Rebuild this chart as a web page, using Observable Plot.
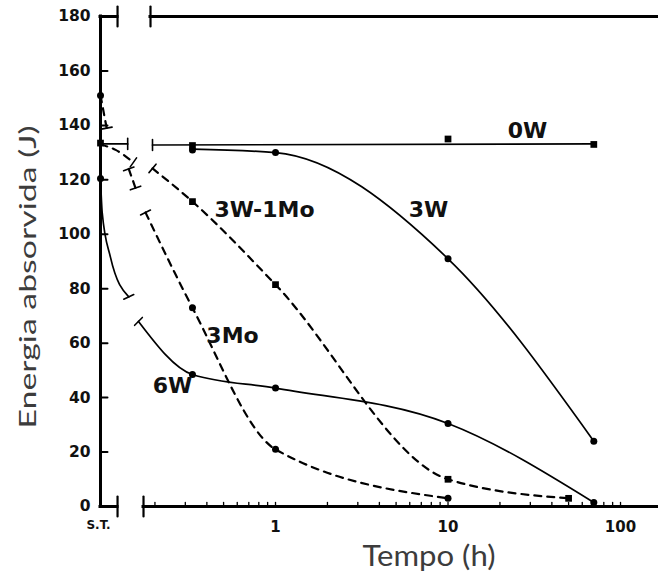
<!DOCTYPE html>
<html><head><meta charset="utf-8">
<script src="https://cdn.jsdelivr.net/npm/d3@7"></script>
<script src="https://cdn.jsdelivr.net/npm/@observablehq/plot@0.6"></script>
<style>body{margin:0;background:#fff}#chart svg{display:block}</style>
</head><body><div id="chart"></div>
<script>
// ---------- axis data ----------
const stLabel = "S.T.";
const stPos = 0.0967;            // where the S.T. category sits on the time axis (h)
const xMax = 166;
const breakLeft = 0.1214;        // end of the S.T. part of the broken axis
const breakRightBottom = 0.1717; // start of the time part (bottom frame line)
const breakRightTop = 0.1885;    // start of the time part (top frame line)
const yMin = 0, yMax = 180;
const yTicks = [0, 20, 40, 60, 80, 100, 120, 140, 160, 180];
const yInnerTicks = [20, 40, 60, 80, 100, 120, 140, 160];
const xTickValues = [1, 10, 100];
const xTickLabels = ["1", "10", "100"];
const xMinorTicks = [0.2, 0.3, 0.4, 0.5, 0.6, 0.7, 0.8, 0.9, 1, 2, 3, 4, 5, 6, 7, 8, 9, 10, 20, 30, 40, 50, 60, 70, 80, 90, 100];
const xTitle = "Tempo (h)";
const yTitle = "Energia absorvida (J)";

// ---------- series: curve traces (t = time h or "S.T.", e = energy J, g = piece across the axis break) ----------
const t0W = ["S.T.", 0.139, 0.1936, 70];
const e0W = [133.2, 133.2, 132.8, 133.2];
const g0W = [0, 0, 1, 1];
const t3W = [0.33, 1, 10, 70];
const e3W = [131.3, 130, 91, 24];
const g3W = [1, 1, 1, 1];
const t3W1Mo = ["S.T.", 0.1183, 0.150, 0.1936, 0.33, 1, 10, 50];
const e3W1Mo = [133, 131, 126.4, 124.2, 112, 81.5, 10, 3];
const g3W1Mo = [0, 0, 0, 1, 1, 1, 1, 1];
const t3Mo = ["S.T.", 0.105, 0.141, 0.1543, 0.1763, 0.33, 1, 10];
const e3Mo = [151, 139, 124, 117, 108, 73, 21, 3];
const g3Mo = [0, 0, 1, 1, 2, 2, 2, 2];
const t6W = ["S.T.", 0.0989, 0.1105, 0.141, 0.1606, 0.33, 1, 10, 70];
const e6W = [120.5, 108, 91.5, 77, 68, 48.5, 43.5, 30.5, 1.5];
const g6W = [0, 0, 0, 0, 1, 1, 1, 1, 1];

// ---------- series: measured points ----------
const mt0W = ["S.T.", 0.33, 10, 70];
const me0W = [133.5, 132.6, 135, 133];
const mt3W = [0.33, 1, 10, 70];
const me3W = [131, 130, 91, 24];
const mt3W1Mo = [0.33, 1, 10, 50];
const me3W1Mo = [112, 81.5, 10, 3];
const mt3Mo = ["S.T.", 0.33, 1, 10];
const me3Mo = [151, 73, 21, 3];
const mt6W = ["S.T.", 0.33, 1, 10, 70];
const me6W = [120.5, 48.5, 43.5, 30.5, 1.5];

// ---------- series labels ----------
const labelText = ["0W", "3W", "3W-1Mo", "3Mo", "6W"];
const labelT = [28.9, 7.7, 0.863, 0.563, 0.253];
const labelE = [138.1, 109.1, 109.1, 62.8, 44.1];

// ---------- build tables ----------
const pos = t => t === stLabel ? stPos : t;
function trace(name, t, e, g) { return t.map((ti, i) => ({series: name, x: pos(ti), e: e[i], seg: name + "-" + g[i]})); }
function points(name, t, e) { return t.map((ti, i) => ({series: name, x: pos(ti), e: e[i]})); }

const solid = [...trace("0W", t0W, e0W, g0W), ...trace("3W", t3W, e3W, g3W), ...trace("6W", t6W, e6W, g6W)];
const dashed = [...trace("3W-1Mo", t3W1Mo, e3W1Mo, g3W1Mo), ...trace("3Mo", t3Mo, e3Mo, g3Mo)];
const circlePts = [...points("3W", mt3W, me3W), ...points("3Mo", mt3Mo, me3Mo), ...points("6W", mt6W, me6W)];
const squarePts = [...points("0W", mt0W, me0W), ...points("3W-1Mo", mt3W1Mo, me3W1Mo)];
const allPts = [...circlePts, ...squarePts];

const W = 658, H = 584, mL = 100, mR = 0, mT = 16, mB = 78;
const xs = Plot.scale({x: {type: "log", domain: [stPos, xMax], range: [mL, W - mR]}});
const ys = Plot.scale({y: {domain: [yMin, yMax], range: [H - mB, mT]}});

// break marks: ends of curve pieces that are neither S.T. nor a measured point
const breaks = [];
for (const rows of [solid, dashed]) {
  for (const [seg, pts] of d3.group(rows, d => d.seg)) {
    const ends = [[pts[0], pts[1]], [pts[pts.length - 1], pts[pts.length - 2]]];
    for (const [p, q] of ends) {
      if (!q || p.x === stPos) continue;
      if (allPts.some(m => m.series === p.series && Math.abs(m.x - p.x) < 1e-9)) continue;
      const dx = xs.apply(q.x) - xs.apply(p.x), dy = ys.apply(q.e) - ys.apply(p.e);
      breaks.push({x: p.x, e: p.e, rot: Math.atan2(dy, dx) * 180 / Math.PI});
    }
  }
}

const frameBottom = [{x1: stPos, x2: breakLeft}, {x1: breakRightBottom, x2: xMax}];
const frameTop = [{x1: stPos, x2: breakLeft}, {x1: breakRightTop, x2: xMax}];
const frameBreaks = [{x: breakLeft, y: yMin}, {x: breakRightBottom, y: yMin}, {x: breakLeft, y: yMax}, {x: breakRightTop, y: yMax}];

const bar = {draw(context, l) { context.moveTo(0, 0); context.lineTo(0, -l); }};
const labelFont = "DejaVu Sans";

const chart = Plot.plot({
  width: W, height: H,
  marginLeft: mL, marginRight: mR, marginTop: mT, marginBottom: mB,
  x: {type: "log", domain: [stPos, xMax], axis: null},
  y: {domain: [yMin, yMax], axis: null},
  style: {fontFamily: labelFont, background: "white", overflow: "visible"},
  marks: [
    // frame / axes
    Plot.ruleX([stPos], {y1: yMin, y2: yMax, stroke: "black", strokeWidth: 3, strokeLinecap: "square"}),
    Plot.ruleY(frameBottom, {x1: "x1", x2: "x2", y: yMin, stroke: "black", strokeWidth: 3, strokeLinecap: "square"}),
    Plot.ruleY(frameTop, {x1: "x1", x2: "x2", y: yMax, stroke: "black", strokeWidth: 3, strokeLinecap: "square"}),
    Plot.vector(frameBreaks, {x: "x", y: "y", length: 20, rotate: 0, anchor: "middle", shape: bar, stroke: "black", strokeWidth: 2.2}),
    Plot.vector(yInnerTicks, {x: stPos, y: d => d, length: 7, rotate: 90, anchor: "start", shape: bar, stroke: "black", strokeWidth: 2}),
    Plot.vector(xMinorTicks, {x: d => d, y: yMin, length: 4, rotate: 0, anchor: "start", shape: bar, stroke: "black", strokeWidth: 1.3}),
    // tick labels
    Plot.text(yTicks, {x: stPos, y: d => d, text: d => String(d), textAnchor: "end", dx: -10, fontSize: 15.5, fontWeight: "bold", fill: "#111"}),
    Plot.text(xTickValues, {x: d => d, y: yMin, text: (d, i) => xTickLabels[i], dy: 21, fontSize: 15, fontWeight: "bold", fill: "#111"}),
    Plot.text([stLabel], {x: stPos, y: yMin, text: d => d, dy: 19, dx: -2, fontSize: 12, fontWeight: "bold", fill: "#111"}),
    // axis titles
    Plot.text([yTitle], {frameAnchor: "left", text: d => d, rotate: -90, textAnchor: "start", dx: -72, dy: 167, fontSize: 23, fontFamily: "Lato", fill: "#3c3c3c"}),
    Plot.text([xTitle], {frameAnchor: "bottom", text: d => d, textAnchor: "start", dx: -17, dy: 59, fontSize: 28, fontFamily: "Lato", fill: "#3c3c3c"}),
    // curves
    Plot.line(solid, {x: "x", y: "e", z: "seg", curve: "monotone-x", stroke: "black", strokeWidth: 1.7}),
    Plot.line(dashed, {x: "x", y: "e", z: "seg", curve: "monotone-x", stroke: "black", strokeWidth: 2.2, strokeDasharray: "7,6"}),
    Plot.vector(breaks, {x: "x", y: "e", rotate: "rot", length: 11, anchor: "middle", shape: bar, stroke: "black", strokeWidth: 1.6}),
    // measured points
    Plot.dot(circlePts, {x: "x", y: "e", r: 3.5, fill: "black", symbol: "circle"}),
    Plot.dot(squarePts, {x: "x", y: "e", r: 3.8, fill: "black", symbol: "square"}),
    // series labels
    Plot.text(labelText, {x: (d, i) => labelT[i], y: (d, i) => labelE[i], text: d => d, fontSize: 22, fontWeight: "bold", fill: "#111"})
  ]
});

d3.select(chart).selectAll("text").each(function () {
  if (this.textContent === yTitle) this.setAttribute("textLength", 303), this.setAttribute("lengthAdjust", "spacingAndGlyphs");
  if (this.textContent === xTitle) this.setAttribute("textLength", 133), this.setAttribute("lengthAdjust", "spacingAndGlyphs");
});
document.getElementById("chart").append(chart);
</script>
</body></html>
